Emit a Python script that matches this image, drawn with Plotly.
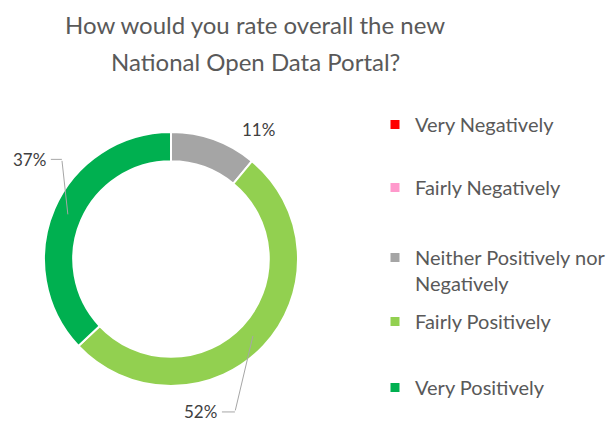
import math
import plotly.graph_objects as go

# ---- data ----
categories = ["Very Negatively", "Fairly Negatively", "Neither Positively nor Negatively",
              "Fairly Positively", "Very Positively"]
legend_labels = ["Very Negatively", "Fairly Negatively", "Neither Positively nor<br>Negatively",
                 "Fairly Positively", "Very Positively"]
shares = [0, 0, 11, 52, 37]
colors = ["#FF0000", "#FF99CC", "#A5A5A5", "#92D050", "#00B050"]
title_lines = ["How would you rate overall the new", "National Open Data Portal?"]

# ---- layout geometry (px) ----
W, H = 608, 422
CX, CY, R = 171, 259, 127
HOLE = 0.77
FONT = "Lato, 'Open Sans', sans-serif"
LEGEND_TOPS = [105, 168, 238, 302, 368]   # px, top of each legend entry box


def px2paper(x, y):
    return x / W, 1 - y / H


fig = go.Figure()
fig.add_trace(go.Pie(
    labels=categories, values=shares, sort=False, direction="clockwise", rotation=0,
    hole=HOLE, textinfo="none", hoverinfo="label+percent", showlegend=False,
    marker=dict(colors=colors, line=dict(color="white", width=2)),
    domain=dict(x=[(CX - R) / W, (CX + R) / W], y=[1 - (CY + R) / H, 1 - (CY - R) / H]),
))

# legend entries: one small legend per entry so that spacing follows the original
legend_layouts = {}
for k, (lab, col) in enumerate(zip(legend_labels, colors)):
    lname = "legend" if k == 0 else f"legend{k + 1}"
    fig.add_trace(go.Scatter(x=[None], y=[None], mode="markers", name=lab, legend=lname,
                             marker=dict(symbol="square", size=9, color=col)))
    lx, ly = px2paper(375, LEGEND_TOPS[k])
    legend_layouts[lname] = dict(x=lx, xanchor="left", y=ly, yanchor="top", valign="top",
                                 font=dict(family=FONT, size=20, color="#595959"),
                                 bgcolor="rgba(0,0,0,0)")

# data labels with leader lines, positioned from slice mid-angles
# dx, dy: elbow of leader line relative to the point on the ring (px); stub: horizontal stub length
label_style = {2: dict(dx=49, dy=-24, line=False),
               3: dict(dx=-18, dy=76, stub=13, line=True),
               4: dict(dx=-6, dy=-55, stub=11, line=True)}
LINE_COL = "#A6A6A6"
LABEL_FONT = dict(family=FONT, size=17, color="#404040")
total = sum(shares)
cum = 0
for i, v in enumerate(shares):
    start = cum
    cum += v
    if v == 0:
        continue
    mid = (start + v / 2) / total * 2 * math.pi
    rr = R * (1 + HOLE) / 2
    px = CX + rr * math.sin(mid)
    py = CY - rr * math.cos(mid)
    st = label_style[i]
    txt = f"{round(v / total * 100)}%"
    if st["line"]:
        ex, ey = px + st["dx"], py + st["dy"]
        x0, y0 = px2paper(px, py)
        fig.add_annotation(xref="paper", yref="paper", x=x0, y=y0, text="", showarrow=True,
                           ax=st["dx"], ay=st["dy"], arrowhead=0, arrowwidth=1,
                           arrowcolor=LINE_COL, standoff=0, startstandoff=0)
        sx0, sy0 = px2paper(ex, ey)
        sx1, _ = px2paper(ex - st["stub"], ey)
        fig.add_shape(type="line", xref="paper", yref="paper", x0=sx0, y0=sy0, x1=sx1, y1=sy0,
                      line=dict(color=LINE_COL, width=1))
        lx, ly = px2paper(ex - st["stub"] - 3, ey)
        fig.add_annotation(xref="paper", yref="paper", x=lx, y=ly, text=txt, showarrow=False,
                           xanchor="right", yanchor="middle", font=LABEL_FONT)
    else:
        x0, y0 = px2paper(px + st["dx"], py + st["dy"])
        fig.add_annotation(xref="paper", yref="paper", x=x0, y=y0, text=txt, showarrow=False,
                           xanchor="center", yanchor="middle", font=LABEL_FONT)

# title (two lines, Excel-like line spacing)
for k, line in enumerate(title_lines):
    tx, ty = px2paper(255, 24 + 37 * k)
    fig.add_annotation(xref="paper", yref="paper", x=tx, y=ty, xanchor="center", yanchor="middle",
                       text=line, showarrow=False,
                       font=dict(family=FONT, size=24, color="#595959"))

fig.update_layout(
    width=W, height=H, margin=dict(l=0, r=0, t=0, b=0, autoexpand=False),
    paper_bgcolor="white", plot_bgcolor="white",
    xaxis=dict(visible=False), yaxis=dict(visible=False),
    **legend_layouts,
)

fig.write_html("out.html", config={"displayModeBar": False},
               post_script="document.body.style.margin='0px';")
